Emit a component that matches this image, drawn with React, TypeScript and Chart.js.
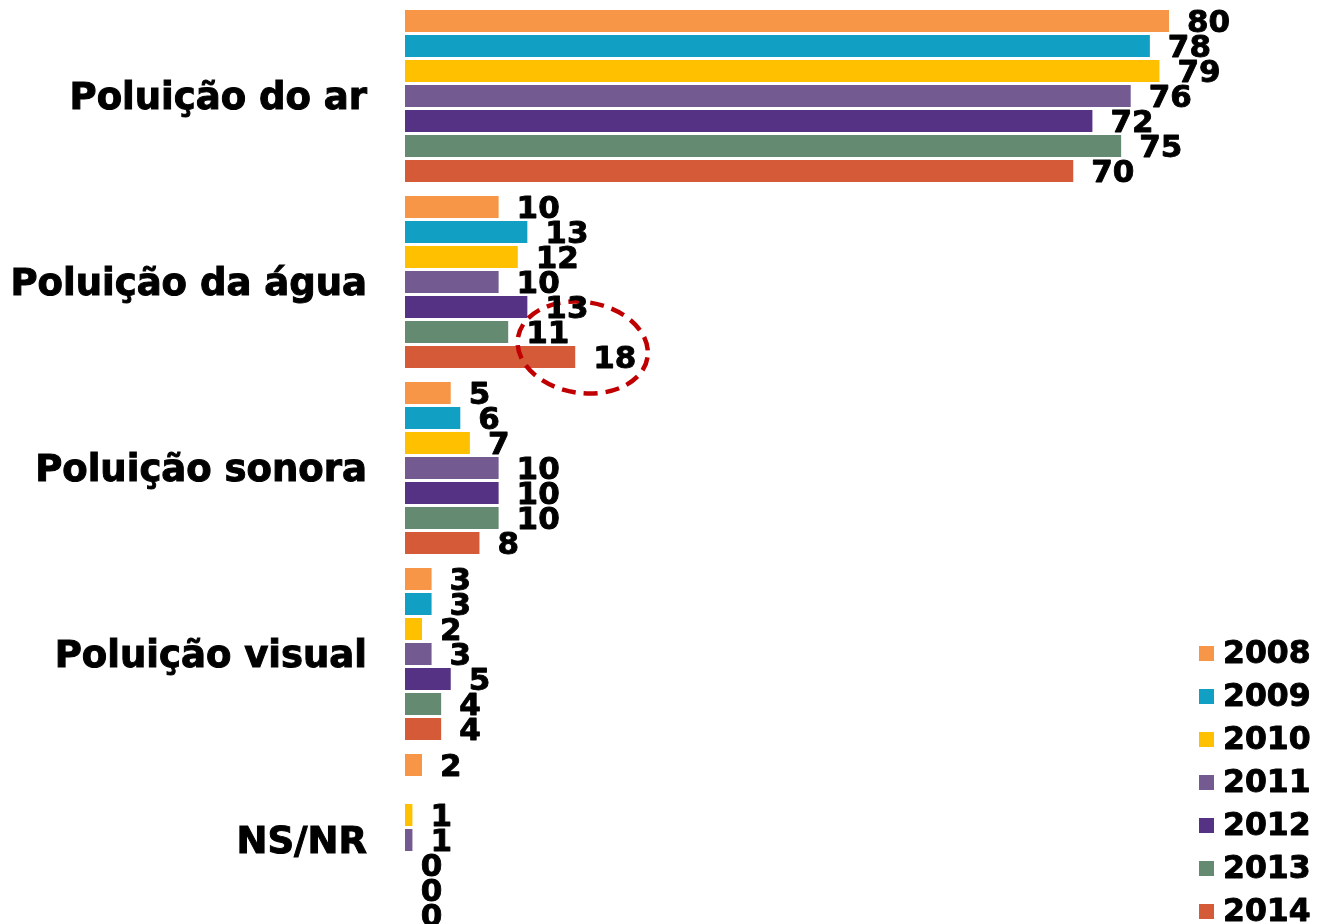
import React, { useEffect, useRef } from "react";
import { Chart, registerables } from "chart.js";

Chart.register(...registerables);

const categories = ["Poluição do ar", "Poluição da água", "Poluição sonora", "Poluição visual", "NS/NR"];
const seriesLabels = ["2008", "2009", "2010", "2011", "2012", "2013", "2014"];
const seriesColors = ["#F79646", "#11A0C4", "#FFC000", "#735A91", "#553283", "#658A72", "#D55A37"];

const v2008 = [80, 10, 5, 3, 2];
const v2009 = [78, 13, 6, 3, null];
const v2010 = [79, 12, 7, 2, 1];
const v2011 = [76, 10, 10, 3, 1];
const v2012 = [72, 13, 10, 5, 0];
const v2013 = [75, 11, 10, 4, 0];
const v2014 = [70, 18, 8, 4, 0];

const seriesValues = [v2008, v2009, v2010, v2011, v2012, v2013, v2014];

// highlighted point: series 2014, category "Poluição da água"
const highlightSeries = 6;
const highlightCategory = 1;

const FONT = "'DejaVu Sans', Verdana, sans-serif";

const labelsPlugin = {
  id: "valueLabels",
  afterDatasetsDraw(chart: any) {
    const ctx = chart.ctx;
    ctx.save();
    // dashed highlight ellipse
    const hb = chart.getDatasetMeta(highlightSeries).data[highlightCategory];
    if (hb) {
      ctx.beginPath();
      ctx.ellipse(hb.x + 7.5, hb.y - 9.5, 65.5, 45.5, 0.15, 0, Math.PI * 2);
      ctx.setLineDash([14, 8]);
      ctx.lineWidth = 4.5;
      ctx.strokeStyle = "#C00000";
      ctx.stroke();
      ctx.setLineDash([]);
    }
    ctx.font = `bold 31px ${FONT}`;
    ctx.fillStyle = "#000";
    ctx.strokeStyle = "#000";
    ctx.lineWidth = 0.9;
    ctx.lineJoin = "round";
    ctx.textAlign = "left";
    ctx.textBaseline = "middle";
    chart.data.datasets.forEach((ds: any, di: number) => {
      const meta = chart.getDatasetMeta(di);
      meta.data.forEach((bar: any, i: number) => {
        const v = ds.data[i];
        if (v === null || v === undefined) return;
        const tx = bar.x + 18;
        const ty = bar.y + 2.5;
        ctx.fillText(String(v), tx, ty);
        ctx.strokeText(String(v), tx, ty);
      });
    });
    ctx.restore();
  },
};

const legendPlugin = {
  id: "customLegend",
  afterDraw(chart: any) {
    const ctx = chart.ctx;
    ctx.save();
    ctx.font = `bold 31.5px ${FONT}`;
    ctx.textAlign = "left";
    ctx.textBaseline = "middle";
    ctx.lineWidth = 0.9;
    ctx.lineJoin = "round";
    seriesLabels.forEach((lab, i) => {
      const cy = 653.5 + i * 43;
      ctx.fillStyle = seriesColors[i];
      ctx.fillRect(1199, cy - 7.5, 15, 15);
      ctx.fillStyle = "#000";
      ctx.strokeStyle = "#000";
      ctx.fillText(lab, 1223, cy + 1);
      ctx.strokeText(lab, 1223, cy + 1);
    });
    ctx.restore();
  },
};

export default function App() {
  const ref = useRef<HTMLCanvasElement>(null);

  useEffect(() => {
    if (!ref.current) return;
    const chart = new Chart(ref.current, {
      type: "bar",
      data: {
        labels: categories,
        datasets: seriesLabels.map((lab, i) => ({
          label: lab,
          data: seriesValues[i],
          backgroundColor: seriesColors[i],
          borderWidth: 0,
          barPercentage: 0.88,
          categoryPercentage: 0.9409,
        })),
      },
      options: {
        indexAxis: "y",
        responsive: false,
        animation: false,
        layout: { padding: { top: 3, bottom: 7, left: 0, right: 0 } },
        plugins: {
          legend: { display: false },
          tooltip: { enabled: false },
        },
        scales: {
          x: {
            display: false,
            min: 0.225,
            max: 95.66,
            grid: { display: false },
          },
          y: {
            grid: { display: false, drawTicks: false },
            border: { display: false },
            ticks: {
              color: "#000",
              padding: 38,
              labelOffset: 3,
              textStrokeColor: "#000",
              textStrokeWidth: 1,
              font: { family: FONT, weight: "bold", size: 37 },
            },
            afterFit(scale: any) {
              scale.width = 405;
              scale.paddingTop = 0;
              scale.paddingBottom = 0;
            },
          },
        },
      },
      plugins: [labelsPlugin, legendPlugin],
    } as any);
    return () => chart.destroy();
  }, []);

  return (
    <div style={{ position: "fixed", left: 0, top: 0, width: 1319, height: 924, overflow: "hidden", background: "#fff" }}>
      <canvas ref={ref} width={1319} height={940} style={{ display: "block" }} />
    </div>
  );
}
